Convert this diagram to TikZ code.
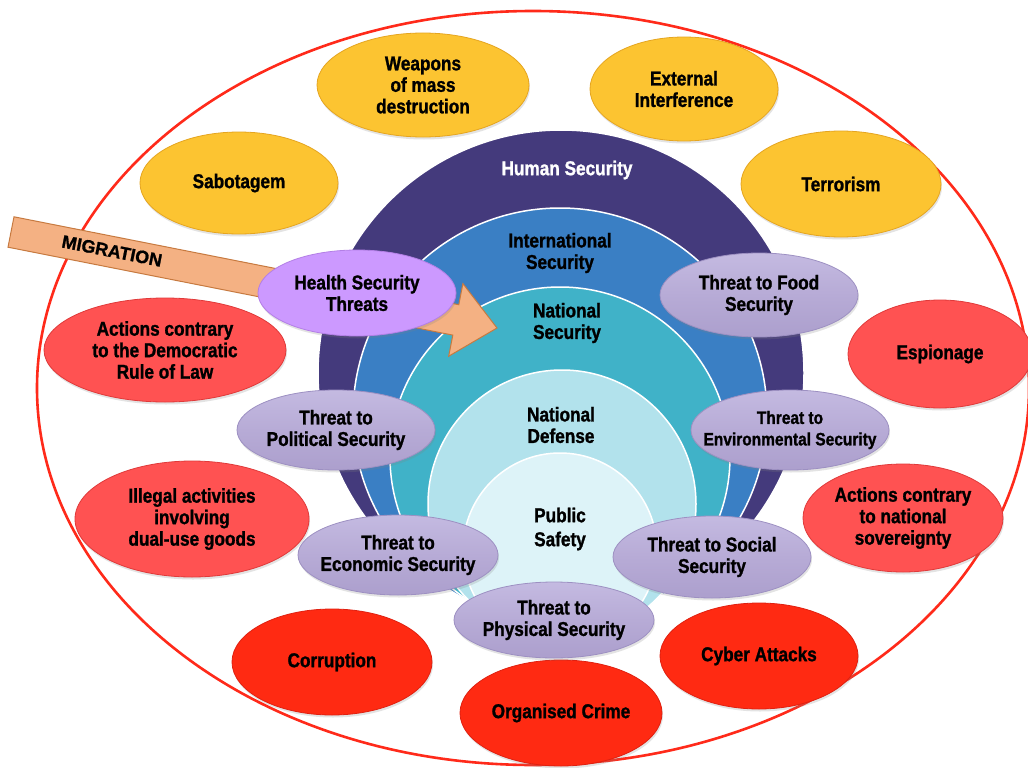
\documentclass[tikz,border=0pt]{standalone}
\usepackage{fontspec}
\setmainfont{Liberation Sans}[FakeStretch=0.86, BoldFeatures={FakeBold=1.2}]
\newfontfamily\migfont{Liberation Sans}[BoldFeatures={FakeBold=1}]
\usetikzlibrary{shapes.geometric,shadows}
\definecolor{yel}{HTML}{FCC431}
\definecolor{yelD}{HTML}{E5A520}
\definecolor{redL}{HTML}{FF5252}
\definecolor{redLD}{HTML}{E03A3A}
\definecolor{redB}{HTML}{FF2A12}
\definecolor{redBD}{HTML}{E02010}
\definecolor{lav}{HTML}{B7ABD6}
\definecolor{lavT}{HTML}{C4BAE1}
\definecolor{lavB}{HTML}{AC9FCD}
\definecolor{lavD}{HTML}{9D90C2}
\definecolor{hl}{HTML}{CC99FF}
\definecolor{hlD}{HTML}{B37FE6}
\definecolor{humanC}{HTML}{443A7C}
\definecolor{intlC}{HTML}{3A7FC4}
\definecolor{natsecC}{HTML}{40B2C8}
\definecolor{natdefC}{HTML}{B2E2EC}
\definecolor{pubC}{HTML}{DDF3F8}
\definecolor{migF}{HTML}{F4B183}
\definecolor{migD}{HTML}{C77A40}
\definecolor{frameR}{HTML}{FF2A1A}
\begin{document}
\begin{tikzpicture}[x=1pt,y=-1pt,
  font=\fontsize{20}{21.5}\selectfont\bfseries,
  ell/.style={ellipse, inner sep=-45pt, align=center, line width=0.8pt,
    drop shadow={shadow xshift=1pt,shadow yshift=-2.5pt,opacity=0.22}},
  yellow/.style={ell, fill=yel, draw=yelD},
  lred/.style={ell, fill=redL, draw=redLD},
  bred/.style={ell, fill=redB, draw=redBD},
  lavel/.style={ell, top color=lavT, bottom color=lavB, middle color=lav, draw=lavD},
  ring/.style={circle, inner sep=0pt, draw=white, line width=1.5pt},
  lbl/.style={align=center, inner sep=0pt}]
\useasboundingbox (0,0) rectangle (1028,768);
\fill[white] (0,0) rectangle (1028,768);

% outer frame
\draw[frameR, line width=2.6pt] (533,388) ellipse [x radius=496pt, y radius=377pt];

% concentric circles
\node[ring, fill=humanC, minimum size=486pt] (human) at (561,373) {};
\node[ring, fill=intlC, minimum size=414pt] (intl) at (560,415) {};
\node[ring, fill=natsecC, minimum size=340pt] (natsec) at (560,457) {};
\node[ring, fill=natdefC, minimum size=268pt] (natdef) at (562,504) {};
\node[ring, fill=pubC, minimum size=194pt] (pub) at (560,550) {};

\node[lbl, text=white] (humanl) at (567,170) {Human Security};
\node[lbl] (intll) at (560,253) {International\\Security};
\node[lbl] (natsecl) at (567,323) {National\\Security};
\node[lbl] (natdefl) at (561,425) {National\\Defense};
\node[lbl, font=\fontsize{20}{24}\selectfont\bfseries] (publ) at (560,529) {Public\\Safety};

% migration arrow
\draw[fill=migF, draw=migD, line width=1pt, line join=miter]
  (14,216.8) -- (458.8,304.7) -- (462.9,283.6) -- (497,328) -- (448.7,356.2)
  -- (452.8,335.1) -- (8,247.2) -- cycle;
\node[rotate=-11.1, font=\migfont\fontsize{18}{18}\selectfont\bfseries] (mig) at (112,251) {MIGRATION};

% yellow threats
\node[yellow, minimum width=212pt, minimum height=104pt] (wmd) at (423,85) {Weapons\\of mass\\destruction};
\node[yellow, minimum width=188pt, minimum height=104pt] (ext) at (684,89) {External\\Interference};
\node[yellow, minimum width=198pt, minimum height=102pt] (sab) at (239,183) {Sabotagem};
\node[yellow, minimum width=200pt, minimum height=106pt] (ter) at (841,184) {Terrorism};

% light red threats
\node[lred, minimum width=242pt, minimum height=104pt] (demo) at (165,350) {Actions contrary\\to the Democratic\\Rule of Law};
\node[lred, minimum width=184pt, minimum height=108pt] (esp) at (940,354) {Espionage};
\node[lred, minimum width=234pt, minimum height=116pt] (dual) at (192,519) {Illegal activities\\involving\\dual-use goods};
\node[lred, minimum width=200pt, minimum height=108pt] (sov) at (903,518) {Actions contrary\\to national\\sovereignty};

% bright red threats
\node[bred, minimum width=200pt, minimum height=106pt] (cor) at (332,662) {Corruption};
\node[bred, minimum width=198pt, minimum height=106pt] (cyb) at (759,656) {Cyber Attacks};
\node[bred, minimum width=202pt, minimum height=106pt] (org) at (561,713) {Organised Crime};

% lavender threats
\node[lavel, minimum width=198pt, minimum height=84pt] (food) at (759,295) {Threat to Food\\Security};
\node[lavel, minimum width=198pt, minimum height=80pt] (pol) at (336,430) {Threat to\\Political Security};
\node[lavel, minimum width=198pt, minimum height=80pt, font=\fontsize{18}{21.5}\selectfont\bfseries] (env) at (790,430) {Threat to\\Environmental Security};
\node[lavel, minimum width=200pt, minimum height=80pt] (eco) at (398,555) {Threat to\\Economic Security};
\node[lavel, minimum width=198pt, minimum height=82pt] (soc) at (712,557) {Threat to Social\\Security};
\node[lavel, minimum width=200pt, minimum height=76pt] (phy) at (554,620) {Threat to\\Physical Security};

% health
\node[ell, fill=hl, draw=hlD, minimum width=198pt, minimum height=86pt] (health) at (357,293) {Health Security\\Threats};
\end{tikzpicture}
\end{document}
